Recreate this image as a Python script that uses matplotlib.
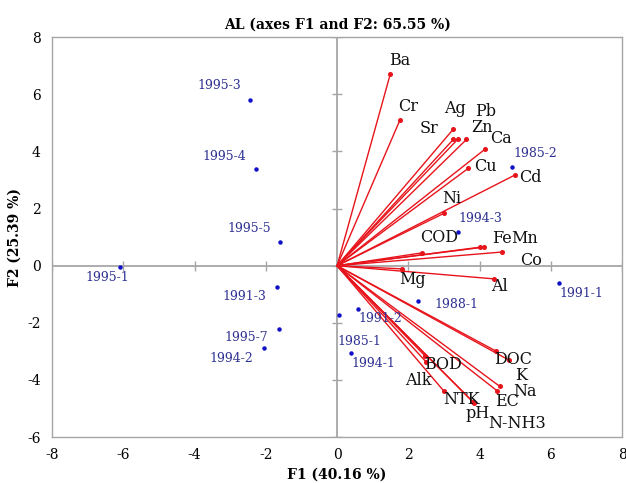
import matplotlib.pyplot as plt
import numpy as np

plt.rcParams['font.family'] = 'DejaVu Serif'
plt.rcParams['axes.unicode_minus'] = False

# observations (F1, F2)
obs_names = ["1995-3", "1995-4", "1995-5", "1995-1", "1991-3", "1995-7", "1994-2",
             "1985-2", "1994-3", "1991-1", "1988-1", "1991-2", "1985-1", "1994-1"]
obs_f1 = [-2.44, -2.28, -1.59, -6.09, -1.69, -1.64, -2.06,
          4.92, 3.38, 6.23, 2.28, 0.59, 0.06, 0.38]
obs_f2 = [5.79, 3.38, 0.82, -0.03, -0.74, -2.20, -2.89,
          3.47, 1.17, -0.61, -1.25, -1.52, -1.73, -3.07]

# variables (scaled loadings)
var_names = ["Ba", "Cr", "Ag", "Sr", "Zn", "Pb", "Ca", "Cu", "Cd", "Ni", "COD",
             "Fe", "Mn", "Co", "Mg", "Al", "DOC", "K", "BOD", "Alk", "NTK",
             "pH", "N-NH3", "Na", "EC"]
var_f1 = [1.49, 1.76, 3.26, 3.26, 3.38, 3.63, 4.15, 3.68, 4.98, 2.99, 2.38,
          4.02, 4.12, 4.63, 1.81, 4.40, 4.46, 4.83, 2.47, 2.50, 2.99,
          3.81, 3.85, 4.56, 4.49]
var_f2 = [6.70, 5.09, 4.78, 4.42, 4.42, 4.42, 4.08, 3.41, 3.17, 1.83, 0.45,
          0.65, 0.65, 0.48, -0.11, -0.46, -2.99, -3.31, -3.16, -3.37, -4.38,
          -4.77, -4.81, -4.22, -4.38]

xticks = np.arange(-8, 9, 2)
yticks = np.arange(-6, 9, 2)

# label offsets in pixels
obs_off = [(-31, 15), (-32, 13), (-31, 14), (-13, -11), (-32, -10), (-32, -9), (-32, -10),
           (23, 13), (23, 14), (22, -10), (38, -3), (22, -9), (20, -26), (23, -10)]
var_off = [(10, 14), (8, 14), (2, 21), (-24, 11), (24, 12), (19, 28), (16, 11),
           (17, 2), (16, -2), (8, 15), (17, 15), (12, 9), (27, 9), (29, -8),
           (11, -11), (6, -8), (17, -8), (12, -15), (18, -9), (-8, -19), (18, -9),
           (5, -12), (43, -20), (25, -5), (10, -11)]

fig = plt.figure(figsize=(6.26, 4.83), dpi=100)
ax = fig.add_axes([0.083, 0.095, 0.911, 0.828])
ax.set_xlim(-8, 8)
ax.set_ylim(-6, 8)

grey = '#a6a6a6'
ax.axhline(0, color=grey, lw=1.3, zorder=1)
ax.axvline(0, color=grey, lw=1.3, zorder=1)
ax.plot(np.zeros(len(yticks)), yticks, ls='none', marker='_', ms=7, mew=1, color=grey, zorder=1)
ax.plot(xticks, np.zeros(len(xticks)), ls='none', marker='|', ms=7, mew=1, color=grey, zorder=1)

for x, y in zip(var_f1, var_f2):
    ax.plot([0, x], [0, y], color='#e8141c', lw=1, zorder=2)
ax.plot(var_f1, var_f2, ls='none', marker='o', ms=2.6, color='#e8141c', zorder=3)

ax.plot(obs_f1, obs_f2, ls='none', marker='o', ms=2.2, color='#1010c8', zorder=4)

for name, x, y, off in zip(var_names, var_f1, var_f2, var_off):
    ha = 'left' if name in ("Fe", "Mn") else 'center'
    ax.annotate(name, (x, y), xytext=off, textcoords='offset pixels',
                ha=ha, va='center', fontsize=11.5, color='#111111', zorder=5)

for name, x, y, off in zip(obs_names, obs_f1, obs_f2, obs_off):
    ax.annotate(name, (x, y), xytext=off, textcoords='offset pixels',
                ha='center', va='center', fontsize=9, color='#2e3192', zorder=5)

ax.set_xticks(xticks)
ax.set_yticks(yticks)
ax.tick_params(length=0, labelsize=10, pad=8)
for s in ax.spines.values():
    s.set_color(grey)
    s.set_linewidth(1)

ax.set_title("AL (axes F1 and F2: 65.55 %)", fontsize=10, fontweight='bold', pad=6)
ax.set_xlabel("F1 (40.16 %)", fontsize=10, fontweight='bold', labelpad=4)
ax.set_ylabel("F2 (25.39 %)", fontsize=10, fontweight='bold', labelpad=4)

fig.savefig("out.png", dpi=100)
